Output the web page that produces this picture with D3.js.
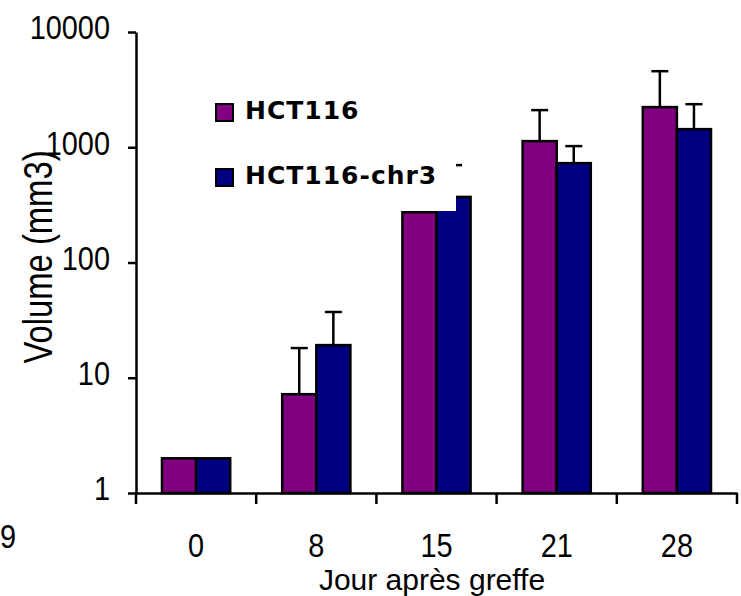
<!DOCTYPE html>
<html>
<head>
<meta charset="utf-8">
<script src="https://cdn.jsdelivr.net/npm/d3@7"></script>
<style>
  body { margin: 0; background: #fff; }
  svg { display: block; }
  .lbl { font-family: "Liberation Sans", Arial, sans-serif; fill: #000; }
</style>
</head>
<body>
<svg id="chart" width="741" height="596"></svg>
<script>
// Tumour volume per day after graft (mm3)
const days = ["0", "8", "15", "21", "28"];
const series = ["HCT116", "HCT116-chr3"];
const hct116 = [2, 7.2, 273, 1130, 2230];
const hct116Sd = [0, 10.9, 207, 970, 2340];
const chr3 = [2, 19.2, 371, 728, 1436];
const chr3Sd = [0, 18, 329, 295, 929];
const yTicks = [1, 10, 100, 1000, 10000];
const colors = ["#800080", "#000080"];

const svg = d3.select("#chart");
const plotLeft = 136, plotRight = 737, plotTop = 32, plotBottom = 493;

const x = d3.scaleBand().domain(days).range([plotLeft, plotRight]);
const x1 = d3.scaleBand().domain(series).range([26, x.bandwidth() - 26]);
const y = d3.scaleLog().domain([1, 10000]).range([plotBottom, plotTop]);

const rows = days.map((d, i) => ({
  day: d,
  vals: [
    { key: series[0], v: hct116[i], sd: hct116Sd[i], c: colors[0] },
    { key: series[1], v: chr3[i], sd: chr3Sd[i], c: colors[1] }
  ]
}));

const groups = svg.append("g").selectAll("g")
  .data(rows)
  .enter()
  .append("g")
  .attr("transform", d => `translate(${x(d.day)},0)`);

groups.selectAll("rect")
  .data(d => d.vals)
  .enter()
  .append("rect")
  .attr("x", d => x1(d.key))
  .attr("width", x1.bandwidth())
  .attr("y", d => y(d.v))
  .attr("height", d => plotBottom - y(d.v))
  .attr("fill", d => d.c)
  .attr("stroke", "#000")
  .attr("stroke-width", 2.5);

// error bars (upper only)
const eb = groups.selectAll("g.err")
  .data(d => d.vals.filter(v => v.sd > 0))
  .enter()
  .append("g")
  .attr("class", "err")
  .attr("stroke", "#000")
  .attr("stroke-width", 2.5);

eb.append("line")
  .attr("x1", d => x1(d.key) + x1.bandwidth() / 2)
  .attr("x2", d => x1(d.key) + x1.bandwidth() / 2)
  .attr("y1", d => y(d.v))
  .attr("y2", d => y(d.v + d.sd));

eb.append("line")
  .attr("x1", d => x1(d.key) + x1.bandwidth() / 2 - 8.5)
  .attr("x2", d => x1(d.key) + x1.bandwidth() / 2 + 8.5)
  .attr("y1", d => y(d.v + d.sd))
  .attr("y2", d => y(d.v + d.sd));

// Legend (its white box hides part of the day-15 bars)
const legend = svg.append("g").attr("transform", "translate(205,85)");
legend.append("rect")
  .attr("width", 251)
  .attr("height", 126)
  .attr("fill", "#fff");

const legendItems = legend.selectAll("g.item")
  .data(series)
  .enter()
  .append("g")
  .attr("class", "item")
  .attr("transform", (d, i) => `translate(0,${19 + i * 65})`);

legendItems.append("rect")
  .attr("x", 11)
  .attr("width", 17)
  .attr("height", 17)
  .attr("fill", (d, i) => colors[i])
  .attr("stroke", "#000")
  .attr("stroke-width", 2);

legendItems.append("text")
  .attr("x", 40)
  .attr("y", 15)
  .text(d => d)
  .style("font-family", "'DejaVu Sans', Verdana, sans-serif")
  .style("font-weight", "bold")
  .style("font-size", "25px")
  .style("letter-spacing", "1px");

// Y axis
const yAxis = d3.axisLeft(y)
  .tickValues(yTicks)
  .tickFormat(d3.format("d"))
  .tickSize(8)
  .tickSizeOuter(0)
  .tickPadding(18);

const gy = svg.append("g")
  .attr("transform", `translate(${plotLeft},0)`)
  .call(yAxis);
gy.select(".domain").attr("stroke-width", 2.5);
gy.selectAll(".tick line").attr("stroke-width", 2.5);
gy.selectAll(".tick text")
  .attr("class", "lbl")
  .style("font-size", "34px")
  .attr("x", -26 / 0.85)
  .attr("dy", "0.2em")
  .attr("transform", "scale(0.85,1)");

// X axis: labels at band centres, ticks on band edges
const xAxis = d3.axisBottom(x).tickSize(0).tickSizeOuter(0);
const gx = svg.append("g")
  .attr("transform", `translate(0,${plotBottom})`)
  .call(xAxis);
gx.select(".domain").attr("stroke-width", 2.5);
gx.selectAll(".tick text")
  .attr("class", "lbl")
  .style("font-size", "34px")
  .attr("y", 64)
  .attr("dy", 0)
  .attr("transform", "scale(0.85,1)")
  .attr("x", 0);

gx.selectAll("line.edge")
  .data(days.map(d => x(d)).concat([x.range()[1]]))
  .enter()
  .append("line")
  .attr("class", "edge")
  .attr("x1", d => d)
  .attr("x2", d => d)
  .attr("y1", 0)
  .attr("y2", 11)
  .attr("stroke", "#000")
  .attr("stroke-width", 2.5);

// Titles
svg.append("text")
  .attr("class", "lbl")
  .attr("transform", "translate(52,257) rotate(-90) scale(0.82,1)")
  .attr("text-anchor", "middle")
  .style("font-size", "40px")
  .text("Volume (mm3)");

svg.append("text")
  .attr("class", "lbl")
  .attr("x", 432)
  .attr("y", 590)
  .attr("text-anchor", "middle")
  .style("font-size", "30px")
  .text("Jour après greffe");

// stray label at the left edge
svg.append("text")
  .attr("class", "lbl")
  .attr("x", 0)
  .attr("y", 548)
  .style("font-size", "34px")
  .attr("transform", "scale(0.85,1)")
  .text("9");
</script>
</body>
</html>
